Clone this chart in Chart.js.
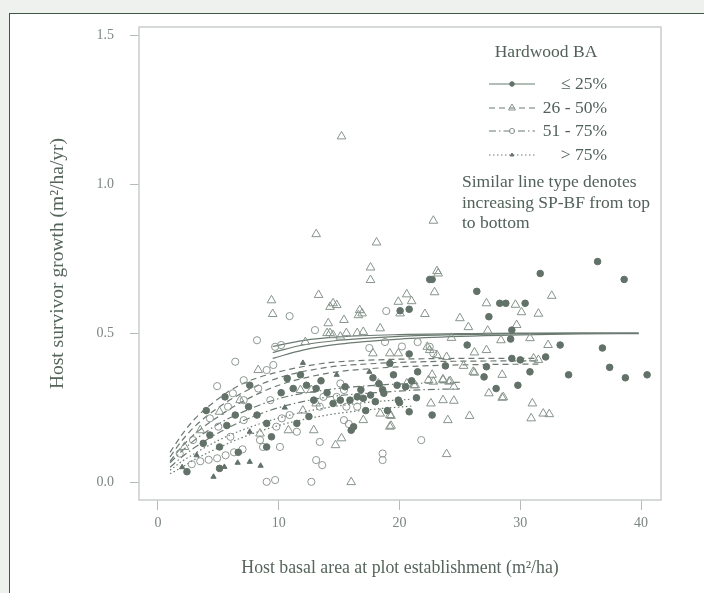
<!DOCTYPE html>
<html lang="en">
<head>
<meta charset="UTF-8">
<title>Host survivor growth</title>
<script src="https://cdn.jsdelivr.net/npm/chart.js"></script>
<style>
  html, body { margin: 0; padding: 0; background: #eff1ee; overflow: hidden; }
  #box { position: absolute; left: 9px; top: 13px; width: 780px; height: 660px;
         border: 1.5px solid #3f5843; background: #fff; }
  #wrap { position: absolute; left: 0; top: 0; width: 704px; height: 593px; }
</style>
</head>
<body>
<div id="box"></div>
<div id="wrap"><canvas id="growthChart" width="704" height="593"></canvas></div>
<script>
// axis ticks
const xTickValues = [0, 10, 20, 30, 40];
const yTickValues = [0.0, 0.5, 1.0, 1.5];

// observed plots, [host BA, growth], grouped by hardwood BA class
const hw25 = [
  [36.4,0.74],[31.65,0.70],[38.6,0.68],[30.4,0.60],[28.3,0.60],[28.8,0.60],[33.3,0.46],[36.8,0.45],
  [32.1,0.42],[37.4,0.385],[30.8,0.37],[34.0,0.36],[38.7,0.35],[40.5,0.36],[29.8,0.325],[29.2,0.48],
  [29.3,0.415],[30.0,0.41],[22.5,0.68],[26.4,0.64],[20.8,0.58],[20.05,0.575],[27.4,0.555],[25.6,0.46],
  [29.3,0.51],[20.8,0.43],[23.8,0.39],[27.2,0.387],[21.5,0.37],[27.0,0.353],[28.0,0.314],[19.8,0.325],
  [20.5,0.32],[18.6,0.31],[21.4,0.283],[20.0,0.267],[20.8,0.236],[22.7,0.225],[22.7,0.68],
  [19.2,0.398],[19.9,0.275],[18.7,0.298],[16.5,0.286],[17.0,0.281],[17.6,0.292],[15.9,0.275],
  [16.2,0.186],[16.0,0.174],[15.1,0.275],[14.5,0.264],[10.7,0.348],[11.2,0.314],[7.5,0.253],[8.2,0.225],
  [12.3,0.325],[13.1,0.314],[12.9,0.275],[11.5,0.197],[9.0,0.197],[9.4,0.152],[7.6,0.325],[6.4,0.225],
  [3.75,0.13],[5.7,0.19],[4.3,0.158],[9.0,0.118],[5.1,0.118],[5.55,0.286],[4.0,0.24],[6.65,0.10],
  [5.1,0.046],[2.4,0.035],[17.8,0.35],[18.3,0.33],[16.8,0.31],[14.0,0.30],[13.5,0.34],[19.5,0.36],
  [21.0,0.34],[18.0,0.27],[15.5,0.32],[11.8,0.36],[10.2,0.30],[12.5,0.22],[17.2,0.24],[19.0,0.24]
];
const hw50 = [
  [32.6,0.625],[29.6,0.595],[30.1,0.57],[31.5,0.565],[29.7,0.527],[30.8,0.483],[32.3,0.46],[31.1,0.415],
  [31.5,0.41],[28.5,0.36],[28.6,0.285],[31.0,0.264],[30.9,0.214],[31.9,0.23],[32.4,0.228],
  [23.2,0.70],[22.9,0.637],[20.6,0.63],[19.9,0.605],[21.0,0.607],[27.2,0.60],[22.1,0.564],[25.0,0.55],
  [20.05,0.566],[25.7,0.52],[27.3,0.508],[24.3,0.484],[28.4,0.476],[26.2,0.435],[27.2,0.443],[22.3,0.454],
  [23.9,0.42],[25.3,0.39],[26.2,0.367],[22.7,0.36],[23.6,0.345],[24.2,0.339],[21.2,0.325],[27.4,0.298],
  [28.5,0.283],[22.6,0.264],[23.6,0.275],[24.5,0.273],[25.8,0.222],[24.0,0.208],[19.3,0.222],[19.3,0.189],
  [23.9,0.094],[15.2,1.16],[13.1,0.832],[18.1,0.804],[17.6,0.72],[17.6,0.678],[13.3,0.628],[9.4,0.61],
  [14.5,0.60],[22.8,0.877],[23.1,0.708],[9.5,0.564],[14.0,0.50],[12.2,0.47],[8.3,0.376],[11.8,0.309],
  [12.7,0.309],[13.1,0.264],[10.8,0.174],[12.9,0.174],[16.7,0.577],[16.6,0.56],[18.4,0.516],[15.4,0.544],
  [15.6,0.50],[16.5,0.50],[17.0,0.504],[14.5,0.493],[19.2,0.432],[19.9,0.432],[17.8,0.432],[22.5,0.443],
  [23.1,0.426],[26.1,0.37],[22.4,0.342],[22.8,0.337],[23.6,0.342],[24.1,0.337],[24.5,0.32],[18.25,0.331],
  [20.6,0.331],[21.3,0.325],[18.4,0.23],[19.2,0.225],[19.2,0.186],[15.2,0.147],[14.7,0.124],[16.0,0.0],
  [14.25,0.50],[15.1,0.488],[17.0,0.208],[14.25,0.588],[14.8,0.594],[14.1,0.533],[16.9,0.566],
  [12.0,0.24],[8.45,0.163],[6.8,0.275],[5.1,0.236],[3.5,0.174],[2.2,0.118]
];
const hw75 = [
  [18.9,0.574],[21.8,0.141],[18.6,0.096],[18.6,0.074],[10.9,0.557],[13.0,0.51],[8.2,0.476],[9.7,0.454],
  [10.2,0.46],[6.4,0.404],[9.0,0.376],[9.55,0.393],[4.9,0.322],[8.3,0.314],[9.3,0.275],[10.25,0.214],
  [11.5,0.169],[13.4,0.135],[8.45,0.141],[13.1,0.074],[13.6,0.057],[9.0,0.001],[9.7,0.007],[12.7,0.001],
  [7.1,0.275],[15.1,0.331],[15.4,0.309],[14.8,0.286],[15.6,0.253],[16.5,0.253],[15.4,0.208],[15.8,0.195],
  [22.5,0.454],[22.8,0.432],[13.7,0.286],[13.4,0.253],[10.9,0.225],[9.8,0.186],[10.1,0.118],[8.7,0.118],
  [7.1,0.342],[6.2,0.298],[5.8,0.253],[4.3,0.214],[7.1,0.208],[5.0,0.186],[2.9,0.141],[1.8,0.096],
  [6.0,0.152],[3.5,0.07],[4.2,0.075],[4.9,0.08],[5.6,0.09],[6.3,0.10],[7.0,0.11],[2.8,0.06],
  [17.5,0.45],[18.8,0.47],[20.2,0.455],[21.5,0.47]
];
const hw100 = [
  [7.6,0.068],[8.5,0.055],[5.5,0.051],[4.6,0.018],[6.6,0.065],[7.6,0.169],[2.0,0.05],[3.2,0.09],
  [10.5,0.25],[14.8,0.36],[17.5,0.37],[12.0,0.40]
];

// fitted curves, one line per SP-BF level (top to bottom)
const solidX = [9.5, 12, 15, 20, 25, 30, 35, 39.8];
const solidY = [
  [0.455, 0.475, 0.487, 0.495, 0.498, 0.50, 0.50, 0.50],
  [0.435, 0.46, 0.476, 0.489, 0.495, 0.498, 0.50, 0.50],
  [0.415, 0.443, 0.463, 0.48, 0.489, 0.494, 0.497, 0.498]
];
const dashX = [1, 2, 3, 5, 7, 10, 14, 18, 22, 26, 31.5];
const dashY = [
  [0.10, 0.16, 0.21, 0.28, 0.33, 0.37, 0.40, 0.41, 0.414, 0.415, 0.415],
  [0.085, 0.14, 0.185, 0.25, 0.30, 0.35, 0.385, 0.398, 0.404, 0.406, 0.407],
  [0.07, 0.12, 0.16, 0.22, 0.27, 0.325, 0.365, 0.382, 0.39, 0.394, 0.396]
];
const dashDotX = [1, 2, 3, 5, 7, 10, 14, 18, 22, 25];
const dashDotY = [
  [0.065, 0.105, 0.14, 0.195, 0.235, 0.28, 0.31, 0.325, 0.332, 0.335],
  [0.05, 0.085, 0.115, 0.165, 0.205, 0.25, 0.285, 0.30, 0.31, 0.313]
];
const dotX = [1, 2, 3, 5, 7, 10, 14, 18, 21];
const dotY = [
  [0.04, 0.07, 0.095, 0.14, 0.175, 0.215, 0.25, 0.27, 0.278],
  [0.028, 0.05, 0.075, 0.115, 0.15, 0.19, 0.225, 0.245, 0.255]
];

const classLabels = ['\u2264 25%', '26 - 50%', '51 - 75%', '> 75%'];

const ink = '#627269';
const lineInk = '#6b7a71';
const serif = "'Liberation Serif', 'DejaVu Serif', serif";

const pts = arr => arr.map(p => ({ x: p[0], y: p[1] }));
const curve = (xs, ys) => xs.map((x, i) => ({ x: x, y: ys[i] }));

const styles = [
  { dash: [], point: 'circle', r: 3.3, fill: ink, stroke: ink },
  { dash: [6, 4], point: 'triangle', r: 5, fill: 'rgba(0,0,0,0)', stroke: '#87948c' },
  { dash: [7, 3, 1.5, 3], point: 'circle', r: 3.6, fill: 'rgba(0,0,0,0)', stroke: '#8e9892' },
  { dash: [1.5, 2.5], point: 'triangle', r: 3, fill: ink, stroke: ink }
];

const datasets = [];
[hw25, hw50, hw75, hw100].forEach((set, i) => {
  const s = styles[i];
  datasets.push({
    label: classLabels[i],
    data: pts(set),
    showLine: false,
    pointStyle: s.point,
    pointRadius: s.r,
    pointBackgroundColor: s.fill,
    pointBorderColor: s.stroke,
    pointBorderWidth: 1
  });
});

function addCurves(xs, yss, dash) {
  yss.forEach(ys => {
    datasets.push({
      data: curve(xs, ys),
      showLine: true,
      pointRadius: 0,
      borderColor: lineInk,
      borderWidth: 1.2,
      borderDash: dash,
      cubicInterpolationMode: 'monotone'
    });
  });
}
addCurves(solidX, solidY, styles[0].dash);
addCurves(dashX, dashY, styles[1].dash);
addCurves(dashDotX, dashDotY, styles[2].dash);
addCurves(dotX, dotY, styles[3].dash);

// light box round the plotting area
const frame = {
  id: 'frame',
  beforeDatasetsDraw(chart) {
    const a = chart.chartArea, c = chart.ctx;
    c.save();
    c.strokeStyle = '#c8cdca';
    c.lineWidth = 1.5;
    c.strokeRect(a.left, a.top, a.right - a.left, a.bottom - a.top);
    c.restore();
  }
};

// legend block and note in the upper right
const legendBox = {
  id: 'legendBox',
  afterDraw(chart) {
    const c = chart.ctx;
    c.save();
    c.fillStyle = '#52625a';
    c.font = '17.5px ' + serif;
    c.textBaseline = 'middle';
    c.textAlign = 'center';
    c.fillText('Hardwood BA', 546, 52);
    const rows = [84, 108, 131, 155];
    rows.forEach((y, i) => {
      const s = styles[i];
      c.strokeStyle = lineInk;
      c.lineWidth = 1.2;
      c.setLineDash(s.dash);
      c.beginPath();
      c.moveTo(489, y);
      c.lineTo(535, y);
      c.stroke();
      c.setLineDash([]);
      c.fillStyle = s.fill;
      c.strokeStyle = s.stroke;
      c.lineWidth = 1;
      Chart.helpers.drawPoint(c, { pointStyle: s.point, radius: s.r - 1, borderWidth: 1, rotation: 0 }, 512, y);
      c.fillStyle = '#52625a';
      c.textAlign = 'right';
      c.fillText(classLabels[i], 607, y);
    });
    c.textAlign = 'left';
    c.fillText('Similar line type denotes', 462, 182);
    c.fillText('increasing SP-BF from top', 462, 203);
    c.fillText('to bottom', 462, 223);
    c.restore();
  }
};

new Chart(document.getElementById('growthChart'), {
  type: 'scatter',
  data: { datasets: datasets },
  options: {
    responsive: false,
    animation: false,
    layout: { padding: { top: 27, right: 43, left: 0, bottom: 0 } },
    plugins: { legend: { display: false }, tooltip: { enabled: false } },
    scales: {
      x: {
        type: 'linear',
        min: -1.57,
        max: 41.65,
        afterBuildTicks: s => { s.ticks = xTickValues.map(v => ({ value: v })); },
        afterFit: s => { s.height = 93; },
        ticks: { color: '#7c8680', font: { family: serif, size: 14 }, padding: 5,
                 callback: v => String(v) },
        grid: { drawOnChartArea: false, drawTicks: true, tickLength: 10, tickColor: '#b5bcb8' },
        border: { display: false },
        title: { display: true, text: 'Host basal area at plot establishment (m\u00b2/ha)',
                 color: '#56655c', font: { family: serif, size: 17.8 }, padding: { top: 0, bottom: 14 } }
      },
      y: {
        type: 'linear',
        min: -0.06,
        max: 1.527,
        afterBuildTicks: s => { s.ticks = yTickValues.map(v => ({ value: v })); },
        afterFit: s => { s.width = 139; },
        ticks: { color: '#7c8680', font: { family: serif, size: 14 }, padding: 16,
                 callback: v => v.toFixed(1) },
        grid: { drawOnChartArea: false, drawTicks: true, tickLength: 9, tickColor: '#b5bcb8' },
        border: { display: false },
        title: { display: true, text: 'Host survivor growth (m\u00b2/ha/yr)',
                 color: '#56655c', font: { family: serif, size: 19.5 }, padding: { top: 46, bottom: 0 } }
      }
    }
  },
  plugins: [frame, legendBox]
});
</script>
</body>
</html>
